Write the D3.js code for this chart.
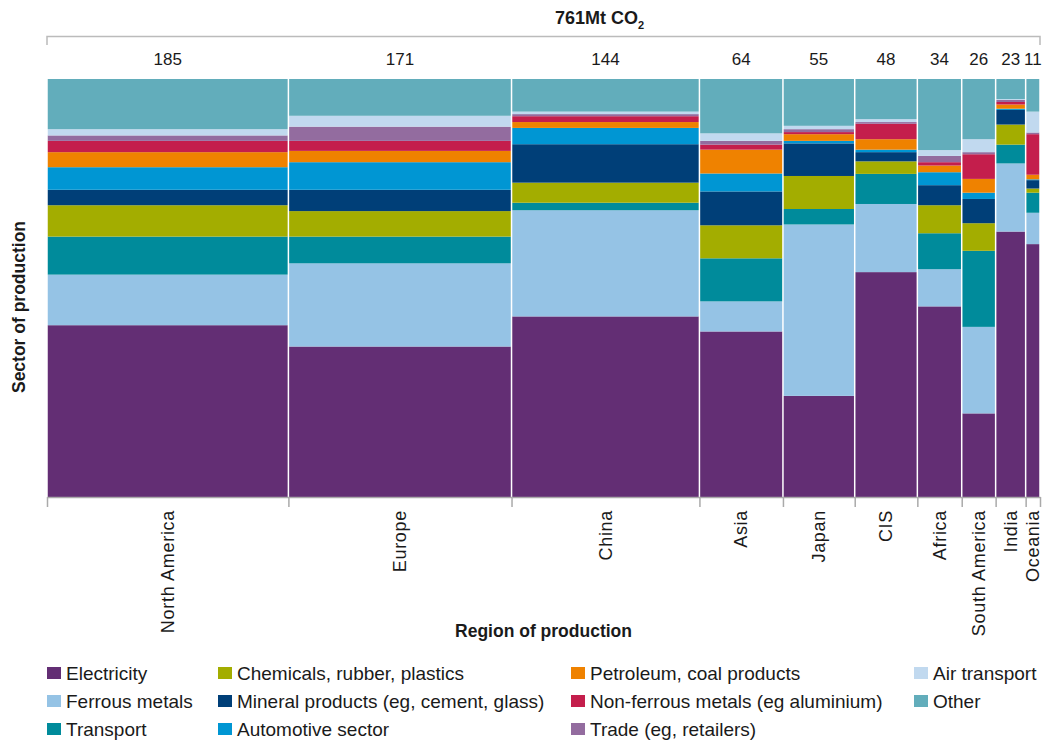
<!DOCTYPE html>
<html lang="en">
<head>
<meta charset="UTF-8">
<script src="https://d3js.org/d3.v7.min.js"></script>
<style>
  body { margin: 0; background: #fff; }
  svg text { font-family: "Liberation Sans", Arial, sans-serif; fill: #1a1a1a; }
</style>
</head>
<body>
<svg class="chart"></svg>
<script>

// regions and their totals (Mt CO2)
const regions = ["North America", "Europe", "China", "Asia", "Japan", "CIS", "Africa", "South America", "India", "Oceania"]
const totals = [185, 171, 144, 64, 55, 48, 34, 26, 23, 11]
const grandTotal = "761Mt CO"

// sector shares per region (%)
const electricity = [41.1, 36.0, 43.2, 39.6, 24.2, 53.8, 45.6, 20.0, 63.5, 60.5]
const ferrous     = [12.1, 19.9, 25.4, 7.2, 41.0, 16.3, 8.9, 20.7, 16.3, 7.5]
const transport   = [9.1, 6.4, 1.8, 10.3, 3.7, 7.2, 8.6, 18.2, 4.5, 4.8]
const chemicals   = [7.5, 6.1, 4.8, 7.9, 7.9, 3.0, 6.7, 6.6, 4.8, 1.0]
const mineral     = [3.7, 5.1, 9.2, 8.1, 7.8, 2.2, 4.8, 5.8, 3.5, 2.0]
const automotive  = [5.4, 6.6, 3.9, 4.3, 0.6, 0.6, 3.1, 1.5, 0.3, 0.2]
const petroleum   = [3.6, 2.7, 1.4, 5.7, 1.6, 2.5, 1.6, 3.3, 1.0, 1.1]
const nonferrous  = [2.7, 2.4, 1.4, 1.2, 0.5, 3.7, 0.8, 5.9, 0.6, 9.7]
const trade       = [1.3, 3.4, 0.5, 0.9, 0.7, 0.4, 1.5, 0.5, 0.5, 0.4]
const air         = [1.5, 2.6, 0.6, 1.8, 0.8, 0.7, 1.4, 3.1, 0.2, 5.0]
const other       = [12.0, 8.8, 7.8, 13.0, 11.2, 9.6, 17.0, 14.4, 4.8, 7.8]

const sectors = [
  {key: "electricity", name: "Electricity", values: electricity, color: "#632e74"},
  {key: "ferrous", name: "Ferrous metals", values: ferrous, color: "#95c3e5"},
  {key: "transport", name: "Transport", values: transport, color: "#008b9b"},
  {key: "chemicals", name: "Chemicals, rubber, plastics", values: chemicals, color: "#a3ad00"},
  {key: "mineral", name: "Mineral products (eg, cement, glass)", values: mineral, color: "#003f78"},
  {key: "automotive", name: "Automotive sector", values: automotive, color: "#0096d3"},
  {key: "petroleum", name: "Petroleum, coal products", values: petroleum, color: "#ef8200"},
  {key: "nonferrous", name: "Non-ferrous metals (eg aluminium)", values: nonferrous, color: "#c41e4c"},
  {key: "trade", name: "Trade (eg, retailers)", values: trade, color: "#936c9f"},
  {key: "air", name: "Air transport", values: air, color: "#c1d9ef"},
  {key: "other", name: "Other", values: other, color: "#62adbb"}
]

// legend is laid out column by column
const legendOrder = ["electricity", "ferrous", "transport", "chemicals", "mineral", "automotive",
                     "petroleum", "nonferrous", "trade", "air", "other"]

const W = 1046, H = 742
const plot = {left: 47, right: 1040, top: 79, bottom: 497}

const svg = d3.select(".chart")
    .attr("width", W)
    .attr("height", H)

// table for the stack
const table = regions.map((r, i) => {
  const row = {region: r, total: totals[i]}
  sectors.forEach(s => row[s.key] = s.values[i])
  return row
})

const cum = d3.cumsum(totals)
table.forEach((d, i) => { d.x0 = i ? cum[i - 1] : 0; d.x1 = cum[i] })

const x = d3.scaleLinear()
    .domain([0, d3.sum(totals)])
    .range([plot.left, plot.right])

const y = d3.scaleLinear()
    .domain([0, 1])
    .range([plot.bottom, plot.top])

const stack = d3.stack()
    .keys(sectors.map(s => s.key))
    .offset(d3.stackOffsetExpand)

const series = stack(table)
const colorOf = d3.scaleOrdinal(sectors.map(s => s.key), sectors.map(s => s.color))

// stacked columns
svg.append("g")
  .selectAll("g")
  .data(series)
  .join("g")
    .attr("fill", d => colorOf(d.key))
  .selectAll("rect")
  .data(d => d)
  .join("rect")
    .attr("x", d => x(d.data.x0) + 0.75)
    .attr("width", d => x(d.data.x1) - x(d.data.x0) - 1.5)
    .attr("y", d => y(d[1]))
    .attr("height", d => y(d[0]) - y(d[1]))

// bottom axis with ticks on column edges
const axisG = svg.append("g")
    .attr("transform", `translate(0,${plot.bottom})`)
    .call(d3.axisBottom(x)
        .tickValues([0, ...cum])
        .tickSize(10)
        .tickSizeOuter(0)
        .tickFormat(""))
axisG.select(".domain").attr("stroke", "#aaa").attr("stroke-width", 1.5)
axisG.selectAll(".tick line").attr("stroke", "#aaa").attr("stroke-width", 1.5)

// region labels
svg.append("g")
  .selectAll("text")
  .data(table)
  .join("text")
    .attr("transform", d => `translate(${x((d.x0 + d.x1) / 2)},${plot.bottom + 13}) rotate(-90)`)
    .attr("text-anchor", "end")
    .attr("dy", "0.35em")
    .style("font-size", "18px")
    .style("letter-spacing", "0.7px")
    .text(d => d.region)

// totals above each column
svg.append("g")
  .selectAll("text")
  .data(table)
  .join("text")
    .attr("x", d => x((d.x0 + d.x1) / 2))
    .attr("y", 65)
    .attr("text-anchor", "middle")
    .style("font-size", "17px")
    .text(d => d.total)

// bracket and grand total
svg.append("path")
    .attr("d", `M${plot.left},45V36.5H${plot.right}V45`)
    .attr("fill", "none")
    .attr("stroke", "#bbb")
    .attr("stroke-width", 1.5)

const title = svg.append("text")
    .attr("x", 555)
    .attr("y", 24)
    .style("font-size", "18px")
    .style("font-weight", "bold")
title.append("tspan").text(grandTotal)
title.append("tspan")
    .attr("dy", 5)
    .style("font-size", "11px")
    .text("2")

// axis titles
svg.append("text")
    .attr("x", (plot.left + plot.right) / 2)
    .attr("y", 637)
    .attr("text-anchor", "middle")
    .style("font-size", "17.5px")
    .style("font-weight", "bold")
    .text("Region of production")

svg.append("text")
    .attr("transform", "translate(25,307) rotate(-90)")
    .attr("text-anchor", "middle")
    .style("font-size", "17.5px")
    .style("font-weight", "bold")
    .text("Sector of production")

// legend
const legendX = [47, 218, 571, 914]
const legendY = [673, 701, 729]
const legendItems = legendOrder.map(k => sectors.find(s => s.key === k))
const slots = [[0,0],[0,1],[0,2],[1,0],[1,1],[1,2],[2,0],[2,1],[2,2],[3,0],[3,1]]

const legend = svg.append("g")
  .selectAll("g")
  .data(legendItems)
  .join("g")
    .attr("transform", (d, i) => `translate(${legendX[slots[i][0]]},${legendY[slots[i][1]]})`)

legend.append("rect")
    .attr("y", -6)
    .attr("width", 14)
    .attr("height", 12)
    .attr("fill", d => d.color)

legend.append("text")
    .attr("x", 19)
    .attr("dy", "0.35em")
    .style("font-size", "19px")
    .text(d => d.name)

</script>
</body>
</html>
